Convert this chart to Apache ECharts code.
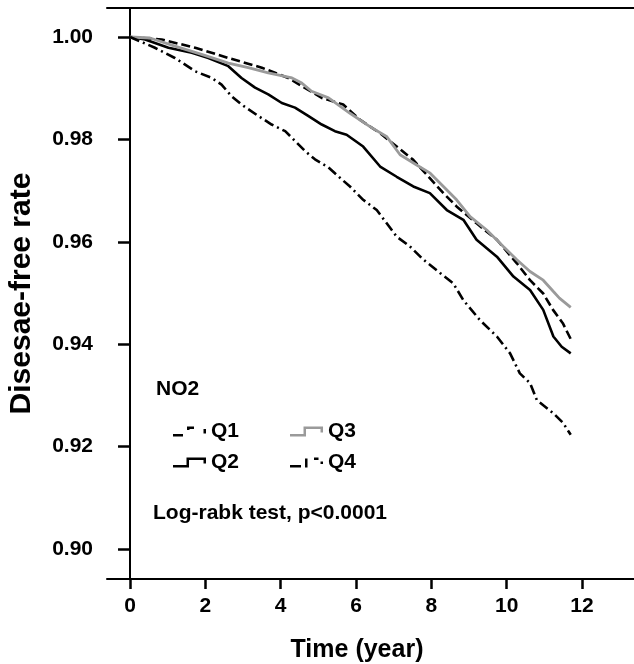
<!DOCTYPE html>
<html>
<head>
<meta charset="utf-8">
<script src="https://cdn.jsdelivr.net/npm/echarts@6/dist/echarts.min.js"></script>
<style>html,body{margin:0;padding:0;background:#fff;}#c{width:634px;height:664px;}</style>
</head>
<body>
<div id="c"></div>
<script>
var xTicks = [0, 2, 4, 6, 8, 10, 12];
var yTicks = [0.90, 0.92, 0.94, 0.96, 0.98, 1.00];
var seriesNames = ['Q1', 'Q2', 'Q3', 'Q4'];

var q1Time = [0, 0.84, 1.73, 2.61, 3.5, 4.2, 5.09, 5.66, 6.11, 6.64, 7.52, 8.32, 8.67, 9.2, 9.74, 10.27, 10.62, 10.97, 11.23, 11.49, 11.7];
var q1Surv = [1.0, 0.9995, 0.9979, 0.9959, 0.9940, 0.9920, 0.9881, 0.9868, 0.9838, 0.9812, 0.9760, 0.9695, 0.9669, 0.9636, 0.9604, 0.9558, 0.9525, 0.9499, 0.9467, 0.9441, 0.9410];

var q2Time = [0, 0.4, 1.02, 1.64, 2.08, 2.61, 2.96, 3.32, 3.67, 4.03, 4.38, 4.73, 5.09, 5.44, 5.75, 6.19, 6.64, 7.08, 7.52, 7.96, 8.41, 8.85, 9.2, 9.74, 10.18, 10.62, 10.97, 11.24, 11.46, 11.7];
var q2Surv = [1.0, 0.9995, 0.9979, 0.9969, 0.9959, 0.9943, 0.9920, 0.9901, 0.9888, 0.9871, 0.9862, 0.9846, 0.9829, 0.9816, 0.9809, 0.9786, 0.9747, 0.9727, 0.9708, 0.9695, 0.9662, 0.9643, 0.9604, 0.9571, 0.9532, 0.9506, 0.9467, 0.9415, 0.9395, 0.9382];

var q3Time = [0, 0.53, 1.19, 1.9, 2.61, 3.14, 3.67, 4.3, 4.56, 4.82, 5.27, 5.84, 6.37, 6.82, 7.17, 7.61, 7.97, 8.32, 8.67, 9.03, 9.47, 9.91, 10.27, 10.62, 10.97, 11.24, 11.4, 11.7];
var q3Surv = [1.0, 0.9998, 0.9982, 0.9966, 0.9949, 0.9940, 0.9930, 0.9920, 0.9910, 0.9894, 0.9881, 0.9851, 0.9825, 0.9805, 0.9770, 0.9750, 0.9734, 0.9708, 0.9682, 0.9649, 0.9623, 0.9591, 0.9565, 0.9542, 0.9525, 0.9503, 0.9490, 0.9472];

var q4Time = [0, 0.66, 1.19, 1.73, 2.17, 2.43, 2.7, 2.96, 3.4, 3.76, 4.12, 4.38, 4.65, 4.91, 5.27, 5.62, 5.84, 6.19, 6.55, 7.08, 7.43, 7.79, 8.23, 8.58, 8.85, 9.29, 9.74, 10.09, 10.35, 10.62, 10.8, 11.24, 11.5, 11.7];
var q4Surv = [1.0, 0.9979, 0.9959, 0.9933, 0.9920, 0.9907, 0.9884, 0.9868, 0.9846, 0.9829, 0.9816, 0.9797, 0.9777, 0.9761, 0.9745, 0.9722, 0.9708, 0.9682, 0.9662, 0.9610, 0.9591, 0.9565, 0.9539, 0.9519, 0.9486, 0.9447, 0.9415, 0.9382, 0.9343, 0.9324, 0.9291, 0.9265, 0.9246, 0.9223];

function zip(a, b) { return a.map(function (v, i) { return [v, b[i]]; }); }

var FONT = '"Liberation Sans", Arial, Helvetica, sans-serif';
var GRAY = '#9a9a9a';

var iconQ2 = 'path://M0,7.5H16V10H0Z M13.5,0H16V10H13.5Z M13.5,0H33V2.5H13.5Z M30.5,0H33V6H30.5Z';
var iconQ1 = 'path://M0,7.5H10V10H0Z M14,0H16.5V3.5H14Z M14,0H21V2.5H14Z M30.5,2.5H33V7H30.5Z';
var iconQ4 = 'path://M0,7.5H11V10H0Z M15,1H17.5V10H15Z M24,0H28.5V2.5H24Z M30.5,4H33V6.5H30.5Z';

var chart = echarts.init(document.getElementById('c'), null, {renderer: 'canvas'});

var legendText = {color: '#000', fontWeight: 'bold', fontSize: 21, fontFamily: FONT};

var option = {
  animation: false,
  backgroundColor: '#fff',
  grid: {left: 107, top: 8, width: 560, height: 571, containLabel: false, outerBoundsMode: 'none'},
  xAxis: [{
    type: 'value',
    min: -0.611, max: 14.256,
    position: 'bottom',
    axisLine: {show: true, lineStyle: {color: '#000', width: 2}},
    axisTick: {show: true, length: 10, lineStyle: {color: '#000', width: 2.5}, customValues: xTicks},
    axisLabel: {show: true, customValues: xTicks, margin: 27, verticalAlign: 'middle', color: '#000', fontWeight: 'bold', fontSize: 21, fontFamily: FONT},
    splitLine: {show: false}
  }, {
    type: 'value',
    min: -0.611, max: 14.256,
    position: 'top',
    axisLine: {show: true, lineStyle: {color: '#000', width: 2}},
    axisTick: {show: false},
    axisLabel: {show: false},
    splitLine: {show: false}
  }],
  yAxis: {
    type: 'value',
    min: 0.89414, max: 1.00566,
    axisLine: {show: true, lineStyle: {color: '#000', width: 2}},
    axisTick: {show: true, length: 12, lineStyle: {color: '#000', width: 2.5}, customValues: yTicks},
    axisLabel: {
      show: true, customValues: yTicks, margin: 14, verticalAlign: 'middle', padding: [7, 0, 0, 0],
      color: '#000', fontWeight: 'bold', fontSize: 21, fontFamily: FONT,
      formatter: function (v) { return v.toFixed(2); }
    },
    splitLine: {show: false},
    name: 'Disesae-free rate',
    nameLocation: 'middle',
    nameGap: 70,
    nameTextStyle: {color: '#000', fontWeight: 'bold', fontSize: 30, fontFamily: FONT}
  },
  legend: [{
    data: [{name: 'Q1', icon: iconQ1}, {name: 'Q3', icon: iconQ2}],
    left: 173, top: 421, orient: 'horizontal',
    itemWidth: 33, itemHeight: 10, itemGap: 51,
    itemStyle: {borderWidth: 0},
    textStyle: legendText, selectedMode: false, padding: 0
  }, {
    data: [{name: 'Q2', icon: iconQ2}, {name: 'Q4', icon: iconQ4}],
    left: 173, top: 452, orient: 'horizontal',
    itemWidth: 33, itemHeight: 10, itemGap: 51,
    itemStyle: {borderWidth: 0},
    textStyle: legendText, selectedMode: false, padding: 0
  }],
  graphic: [
    {type: 'text', x: 156, y: 389, style: {text: 'NO2', fill: '#000', font: 'bold 21px ' + FONT, textAlign: 'left', textVerticalAlign: 'middle'}},
    {type: 'text', x: 153, y: 513, style: {text: 'Log-rabk test, p<0.0001', fill: '#000', font: 'bold 21px ' + FONT, textAlign: 'left', textVerticalAlign: 'middle'}},
    {type: 'text', x: 357, y: 650, style: {text: 'Time (year)', fill: '#000', font: 'bold 25px ' + FONT, textAlign: 'center', textVerticalAlign: 'middle'}}
  ],
  series: [{
    name: seriesNames[0], type: 'line', data: zip(q1Time, q1Surv), showSymbol: false, symbol: 'none',
    itemStyle: {color: '#000'},
    lineStyle: {color: '#000', width: 2.6, type: [9, 4]}
  }, {
    name: seriesNames[1], type: 'line', data: zip(q2Time, q2Surv), showSymbol: false, symbol: 'none',
    itemStyle: {color: '#000'},
    lineStyle: {color: '#000', width: 2.6, type: 'solid'}
  }, {
    name: seriesNames[2], type: 'line', data: zip(q3Time, q3Surv), showSymbol: false, symbol: 'none',
    itemStyle: {color: GRAY},
    lineStyle: {color: GRAY, width: 2.8, type: 'solid'}
  }, {
    name: seriesNames[3], type: 'line', data: zip(q4Time, q4Surv), showSymbol: false, symbol: 'none',
    itemStyle: {color: '#000'},
    lineStyle: {color: '#000', width: 2.6, type: [10, 4, 2, 4]}
  }]
};
chart.setOption(option);
</script>
</body>
</html>
